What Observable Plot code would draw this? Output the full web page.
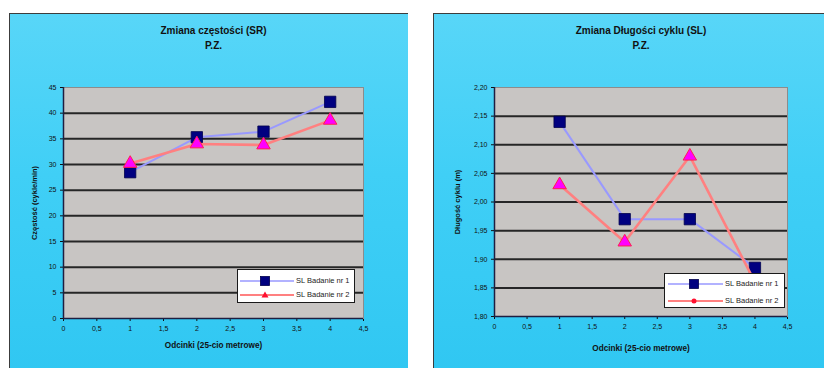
<!DOCTYPE html>
<html>
<head>
<meta charset="utf-8">
<script src="https://cdn.jsdelivr.net/npm/d3@7"></script>
<script src="https://cdn.jsdelivr.net/npm/@observablehq/plot@0.6"></script>
<style>
  body { margin: 0; background: #fff; width: 824px; height: 368px; overflow: hidden; position: relative;
         font-family: "Liberation Sans", Arial, sans-serif; }
  .panel { position: absolute; top: 13px; height: 360px;
           background: linear-gradient(180deg, #58d6f8 0%, #40cff6 45%, #30c7f2 100%);
           box-shadow: inset 1px 1px 0 #3c3c3c; }
  .panel svg { position: absolute; left: 0; top: 0; overflow: visible; }
  .legend { position: absolute; background: #fff; border: 1px solid #1a1a1a; box-sizing: border-box; }
  .legend .row { position: absolute; left: 0; height: 12px; width: 100%; }
  .legend svg { position: absolute; left: 0; top: 0; }
  .legend span { position: absolute; font-size: 7.5px; color: #222; white-space: nowrap; line-height: 12px; top: 0; }
</style>
</head>
<body>
<div id="p1" class="panel" style="left:9px;width:399px"></div>
<div id="p2" class="panel" style="left:433px;width:391px"></div>
<script>
// Segments of the swim (x) and the two measurement sessions
const segments = [1, 2, 3, 4];
const seriesNames = ["SL Badanie nr 1", "SL Badanie nr 2"];

// Stroke rate (cycles/min)
const srStudy1 = [28.5, 35.3, 36.4, 42.2];
const srStudy2 = [30.2, 34.0, 33.8, 38.6];

// Stroke length (m)
const slStudy1 = [2.14, 1.97, 1.97, 1.885];
const slStudy2 = [2.03, 1.93, 2.08, 1.86];

// Axis ticks
const xTicks = [0, 0.5, 1, 1.5, 2, 2.5, 3, 3.5, 4, 4.5];
const srTicks = [0, 5, 10, 15, 20, 25, 30, 35, 40, 45];
const slTicks = [1.80, 1.85, 1.90, 1.95, 2.00, 2.05, 2.10, 2.15, 2.20];

const comma = (d) => String(d).replace(".", ",");
const c1 = {line: "#9999ff", fill: "#000080", stroke: "#00004d"};
const c2 = {line: "#ff8080", fill: "#ff00ff", stroke: "#ff2050"};

function chart({v1, v2, yTicks, yFormat, title, yLabel, width, height, ml, mr, mt, mb, xLabelDy, yLabelDx}) {
  const s1 = segments.map((x, i) => ({x, y: v1[i]}));
  const s2 = segments.map((x, i) => ({x, y: v2[i]}));
  const yDomain = [yTicks[0], yTicks[yTicks.length - 1]];
  const inner = yTicks.slice(1, -1);
  return Plot.plot({
    width, height,
    marginLeft: ml, marginRight: mr, marginTop: mt, marginBottom: mb,
    style: {background: "transparent", fontFamily: "'Liberation Sans', Arial, sans-serif", fontSize: "7px", color: "#111"},
    x: {domain: [0, 4.5], ticks: xTicks, tickFormat: comma, tickSize: 3, tickPadding: 5, label: null},
    y: {domain: yDomain, ticks: yTicks, tickFormat: yFormat, tickSize: 3, tickPadding: 4, label: null},
    marks: [
      Plot.frame({fill: "#c8c5c3", stroke: "#8c8c8c"}),
      Plot.ruleY(inner, {stroke: "#262626", strokeWidth: 2}),
      Plot.ruleX([0], {stroke: "#1e1e40", strokeWidth: 1.5}),
      Plot.ruleY([yDomain[0]], {stroke: "#1e1e40", strokeWidth: 1.5}),
      Plot.line(s1, {x: "x", y: "y", stroke: c1.line, strokeWidth: 2}),
      Plot.dot(s1, {x: "x", y: "y", symbol: "square", r: 6.4, fill: c1.fill, stroke: c1.stroke, strokeWidth: 0.8}),
      Plot.line(s2, {x: "x", y: "y", stroke: c2.line, strokeWidth: 2.6}),
      Plot.dot(s2, {x: "x", y: "y", symbol: "triangle", r: 5, fill: c2.fill, stroke: c2.stroke, strokeWidth: 1}),
      Plot.text([title[0]], {frameAnchor: "top", dy: -61, fontSize: 10, fontWeight: "bold", fill: "#111"}),
      Plot.text([title[1]], {frameAnchor: "top", dy: -46, fontSize: 10, fontWeight: "bold", fill: "#111"}),
      Plot.text(["Odcinki (25-cio metrowe)"], {frameAnchor: "bottom", dy: xLabelDy, fontSize: 8.2, fontWeight: "bold", fill: "#111"}),
      Plot.text([yLabel], {frameAnchor: "left", textAnchor: "middle", dx: yLabelDx, rotate: -90, fontSize: 7.5, fontWeight: "bold", fill: "#111"})
    ]
  });
}

function legend(parent, {left, top, width, height, rows, textX, lineX0, lineX1, markX, second}) {
  const box = document.createElement("div");
  box.className = "legend";
  Object.assign(box.style, {left: left + "px", top: top + "px", width: width + "px", height: height + "px"});
  seriesNames.forEach((name, i) => {
    const row = document.createElement("div");
    row.className = "row";
    row.style.top = (rows[i] - 6) + "px";
    const c = i === 0 ? c1 : c2;
    let marker;
    if (i === 0) marker = `<rect x="${markX - 4.5}" y="1.5" width="9" height="9" fill="${c.fill}" stroke="${c.stroke}" stroke-width="0.8"/>`;
    else if (second === "triangle") marker = `<path d="M${markX},2.5 L${markX + 3.5},8.5 L${markX - 3.5},8.5Z" fill="#ff1030"/>`;
    else marker = `<circle cx="${markX}" cy="6" r="2.5" fill="#ff1030"/>`;
    row.innerHTML = `<svg width="${width}" height="12"><line x1="${lineX0}" x2="${lineX1}" y1="6" y2="6" stroke="${c.line}" stroke-width="${i === 0 ? 1.6 : 2}"/>${marker}</svg><span style="left:${textX}px">${name}</span>`;
    box.appendChild(row);
  });
  parent.appendChild(box);
}

const p1 = document.getElementById("p1");
p1.appendChild(chart({
  v1: srStudy1, v2: srStudy2, yTicks: srTicks, yFormat: (d) => String(d),
  title: ["Zmiana częstości (SR)", "P.Z."], yLabel: "Częstość (cykle/min)",
  width: 399, height: 355, ml: 54, mr: 45, mt: 74, mb: 50, xLabelDy: 29, yLabelDx: -29
}));
legend(p1, {left: 228, top: 256, width: 118, height: 34, rows: [11, 25], lineX0: 2, lineX1: 56, markX: 27, textX: 58, second: "triangle"});

const p2 = document.getElementById("p2");
p2.appendChild(chart({
  v1: slStudy1, v2: slStudy2, yTicks: slTicks, yFormat: (d) => d.toFixed(2).replace(".", ","),
  title: ["Zmiana Długości cyklu (SL)", "P.Z."], yLabel: "Długość cyklu (m)",
  width: 391, height: 355, ml: 61, mr: 37, mt: 74, mb: 52, xLabelDy: 34, yLabelDx: -37
}));
legend(p2, {left: 231, top: 260, width: 121, height: 35, rows: [10, 27], lineX0: 3, lineX1: 58, markX: 29, textX: 60, second: "dot"});
</script>
</body>
</html>
